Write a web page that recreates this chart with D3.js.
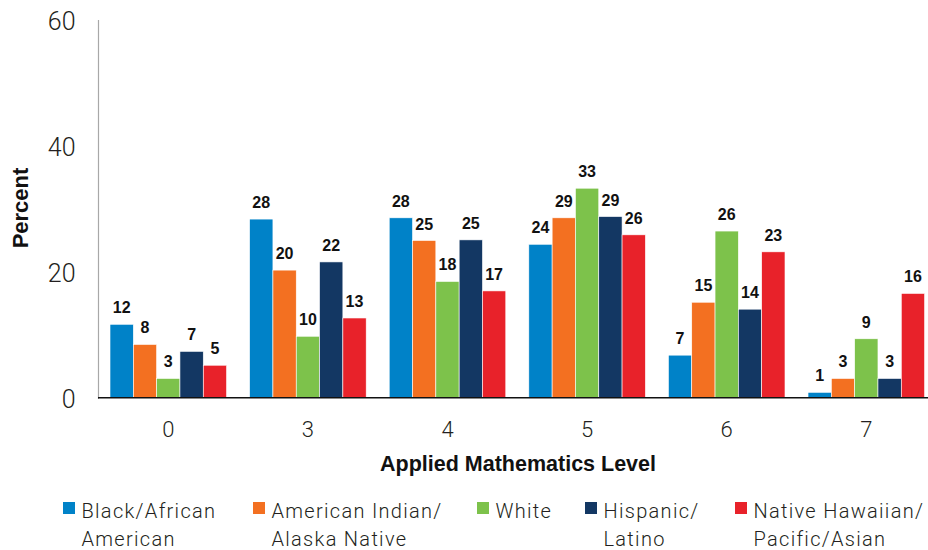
<!DOCTYPE html>
<html>
<head>
<meta charset="utf-8">
<script src="https://cdn.jsdelivr.net/npm/d3@7"></script>
<style>
  html, body { margin: 0; padding: 0; background: #fff; }
  svg { display: block; }
</style>
</head>
<body>
<svg id="chart" width="928" height="550"></svg>
<script>
const categories = ["0", "3", "4", "5", "6", "7"];
const seriesNames = [
  ["Black/African", "American"],
  ["American Indian/", "Alaska Native"],
  ["White"],
  ["Hispanic/", "Latino"],
  ["Native Hawaiian/", "Pacific/Asian"]
];
const blackValues    = [11.7, 28.4, 28.6, 24.4, 6.8, 0.9];
const amIndianValues = [8.5, 20.3, 25.0, 28.6, 15.2, 3.1];
const whiteValues    = [3.1, 9.8, 18.5, 33.3, 26.5, 9.4];
const hispanicValues = [7.4, 21.6, 25.1, 28.8, 14.1, 3.1];
const nhpiValues     = [5.2, 12.7, 17.0, 25.9, 23.2, 16.6];
const blackLabels    = [12, 28, 28, 24, 7, 1];
const amIndianLabels = [8, 20, 25, 29, 15, 3];
const whiteLabels    = [3, 10, 18, 33, 26, 9];
const hispanicLabels = [7, 22, 25, 29, 14, 3];
const nhpiLabels     = [5, 13, 17, 26, 23, 16];
const yTicks = [0, 20, 40, 60];
const colors = ["#0082C8", "#F37021", "#7DC24B", "#133763", "#E8222A"];

const seriesValues = [blackValues, amIndianValues, whiteValues, hispanicValues, nhpiValues];
const seriesLabels = [blackLabels, amIndianLabels, whiteLabels, hispanicLabels, nhpiLabels];

const svg = d3.select("#chart");
const lightFont = "Roboto, 'Liberation Sans', sans-serif";
const boldFont = "'Liberation Sans', Arial, sans-serif";

const x0 = d3.scaleBand().domain(categories).range([98, 936.6]).paddingInner(0.165).paddingOuter(0.086);
const x1 = d3.scaleBand().domain(d3.range(5)).range([0, x0.bandwidth()]);
const y = d3.scaleLinear().domain([0, 60]).range([398, 20]);

// y axis line
svg.append("line").attr("x1", 98.5).attr("x2", 98.5).attr("y1", y(60)).attr("y2", y(0) + 1)
  .attr("stroke", "#a8a8a8").attr("stroke-width", 1.2);

// y tick labels
svg.append("g").selectAll("text").data(yTicks).join("text")
  .attr("x", 75.5).attr("y", d => y(d) + 1).attr("dy", "0.35em")
  .attr("text-anchor", "end")
  .attr("font-family", lightFont).attr("font-weight", 300).attr("font-size", 25)
  .attr("fill", "#231f20").text(d => d);

// bars
const groups = svg.append("g").selectAll("g").data(categories).join("g")
  .attr("transform", c => `translate(${x0(c)},0)`);

groups.each(function(c, ci) {
  const g = d3.select(this);
  const data = seriesValues.map((vals, si) => ({si, v: vals[ci], lab: seriesLabels[si][ci]}));
  g.selectAll("rect").data(data).join("rect")
    .attr("x", d => x1(d.si)).attr("width", x1.bandwidth())
    .attr("y", d => y(d.v)).attr("height", d => y(0) - y(d.v))
    .attr("fill", d => colors[d.si])
    .attr("stroke", "#fff").attr("stroke-width", 0.6);
  g.selectAll("text").data(data).join("text")
    .attr("x", d => x1(d.si) + x1.bandwidth() / 2)
    .attr("y", d => y(d.v) - 11)
    .attr("text-anchor", "middle")
    .attr("font-family", boldFont).attr("font-weight", 700).attr("font-size", 16)
    .attr("fill", "#111").text(d => d.lab);
});

// x axis line
svg.append("line").attr("x1", 98).attr("x2", 928).attr("y1", 397.8).attr("y2", 397.8)
  .attr("stroke", "#111").attr("stroke-width", 1.5);

// x tick labels
svg.append("g").selectAll("text").data(categories).join("text")
  .attr("x", c => x0(c) + x0.bandwidth() / 2).attr("y", 429).attr("dy", "0.35em")
  .attr("text-anchor", "middle")
  .attr("font-family", lightFont).attr("font-weight", 300).attr("font-size", 22)
  .attr("fill", "#231f20").text(c => c);

// axis titles
svg.append("text").attr("x", 518).attr("y", 471)
  .attr("text-anchor", "middle")
  .attr("font-family", boldFont).attr("font-weight", 700).attr("font-size", 21.5)
  .attr("fill", "#111").text("Applied Mathematics Level");

svg.append("text").attr("transform", "translate(28,208) rotate(-90)")
  .attr("text-anchor", "middle")
  .attr("font-family", boldFont).attr("font-weight", 700).attr("font-size", 22)
  .attr("fill", "#111").text("Percent");

// legend
const legendX = [63, 253, 477, 585, 735];
const legend = svg.append("g").selectAll("g").data(seriesNames).join("g")
  .attr("transform", (d, i) => `translate(${legendX[i]},0)`);
legend.append("rect").attr("x", 0).attr("y", 502).attr("width", 12).attr("height", 12)
  .attr("fill", (d, i) => colors[i]);
legend.each(function(lines) {
  const t = d3.select(this).append("text")
    .attr("font-family", lightFont).attr("font-weight", 300).attr("font-size", 20)
    .attr("letter-spacing", 1.3)
    .attr("fill", "#231f20");
  lines.forEach((ln, k) => {
    t.append("tspan").attr("x", 18.5).attr("y", 517.5 + k * 28).text(ln);
  });
});
</script>
</body>
</html>
